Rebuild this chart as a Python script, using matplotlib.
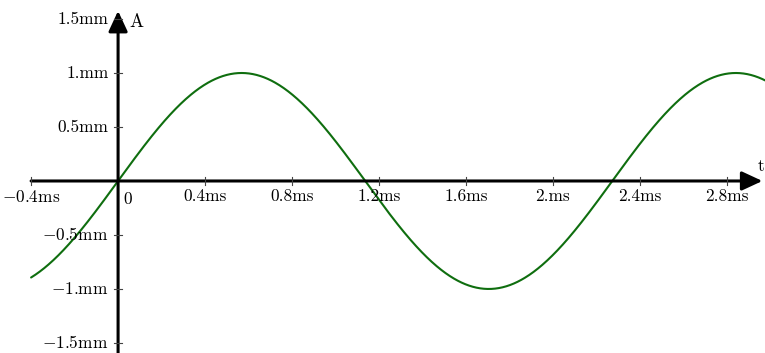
import numpy as np
import matplotlib
matplotlib.use("Agg")
import matplotlib.pyplot as plt

plt.rcParams["mathtext.fontset"] = "cm"
plt.rcParams["axes.unicode_minus"] = False

# Wave parameters: amplitude in mm, frequency in kHz (time axis in ms)
amplitude_mm = 1.0
frequency_khz = 0.44

x_ticks = [-0.4, 0.4, 0.8, 1.2, 1.6, 2.0, 2.4, 2.8]
x_tick_labels = ["-0.4ms", "0.4ms", "0.8ms", "1.2ms", "1.6ms", "2.ms", "2.4ms", "2.8ms"]
y_ticks = [1.5, 1.0, 0.5, -0.5, -1.0, -1.5]
y_tick_labels = ["1.5mm", "1.mm", "0.5mm", "-0.5mm", "-1.mm", "-1.5mm"]

x_min, x_max = -0.543, 2.975
y_min, y_max = -1.593, 1.676

fig = plt.figure(figsize=(7.65, 3.53), dpi=100)
ax = fig.add_axes([0, 0, 1, 1])
ax.set_xlim(x_min, x_max)
ax.set_ylim(y_min, y_max)
ax.axis("off")

t = np.linspace(-0.4, x_max + 0.05, 1200)
a = amplitude_mm * np.sin(2 * np.pi * frequency_khz * t)
ax.plot(t, a, color="#0f6e0f", lw=1.5, zorder=3, solid_capstyle="round")

# Axes with arrow heads
axis_kw = dict(arrowstyle="-|>,head_length=1.25,head_width=0.58", color="black",
               lw=2.2, shrinkA=0, shrinkB=0)
ax.annotate("", xy=(2.963, 0), xytext=(-0.4, 0), arrowprops=axis_kw, zorder=4)
ax.annotate("", xy=(0, 1.575), xytext=(0, y_min - 0.05), arrowprops=axis_kw, zorder=4)

fs = 12.5
font = dict(fontsize=fs, fontfamily="cmr10")


def fmt(label):
    # minus sign drawn through mathtext, digits and units in cmr10
    return label.replace("-", "$-$")


ax.text(2.94, 0.065, "t", ha="left", va="bottom", **font)
ax.text(0.052, 1.47, "A", ha="left", va="center", fontsize=13.5, fontfamily="cmr10")

# Tick marks and labels
dx = 0.018
dy = 0.035
for xv, lab in zip(x_ticks, x_tick_labels):
    ax.plot([xv, xv], [-dy, dy], color="#444444", lw=0.8, zorder=5)
    ax.text(xv, -0.075, fmt(lab), ha="center", va="top", **font)
ax.text(0.025, -0.1, "0", ha="left", va="top", **font)

for yv, lab in zip(y_ticks, y_tick_labels):
    ax.plot([-dx, dx], [yv, yv], color="#444444", lw=0.8, zorder=5)
    ax.text(-0.045, yv, fmt(lab), ha="right", va="center", **font)

fig.savefig("out.png", dpi=100)
